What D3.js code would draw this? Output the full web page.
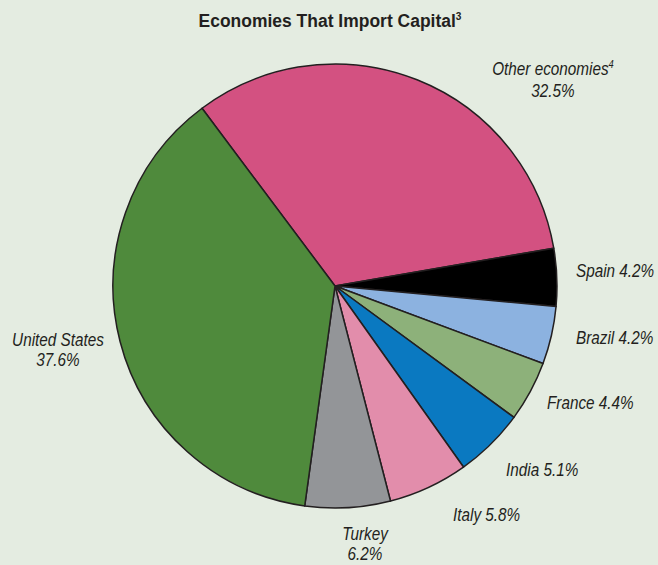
<!DOCTYPE html>
<html>
<head>
<meta charset="utf-8">
<script src="https://cdn.jsdelivr.net/npm/d3@7"></script>
<style>
  body { margin: 0; background: #e4ece1; }
  svg { display: block; }
  text { font-family: "Liberation Sans", Arial, sans-serif; fill: #231f20; }
</style>
</head>
<body>
<script>
// slices, clockwise from the US / Other boundary
const names = ["Other economies", "Spain", "Brazil", "France", "India", "Italy", "Turkey", "United States"];
const shares = [32.5, 4.2, 4.2, 4.4, 5.1, 5.8, 6.2, 37.6];
const colors = ["#d35181", "#000000", "#8cb2e0", "#8db17a", "#0a79c1", "#e28dab", "#939598", "#4f8a3c"];

const width = 658, height = 565;
const cx = 335, cy = 286, radius = 222;
const squeeze = 0.85;   // condensed look for the labels

const svg = d3.select("body").append("svg")
    .attr("width", width).attr("height", height)
    .style("background", "#e4ece1");

// 标题
const title = svg.append("text")
    .attr("transform", `translate(330, 27) scale(0.92, 1)`)
    .attr("text-anchor", "middle")
    .attr("font-size", "19px")
    .attr("font-weight", "bold");
title.append("tspan").text("Economies That Import Capital");
title.append("tspan").text("3").attr("font-size", "11px").attr("dy", -7);

const start = -36.8 * Math.PI / 180;
const pie = d3.pie().sort(null).value(d => d.v)
    .startAngle(start).endAngle(start + 2 * Math.PI);
const arc = d3.arc().innerRadius(0).outerRadius(radius);

const data = names.map((n, i) => ({name: n, v: shares[i], color: colors[i]}));

const g = svg.append("g").attr("transform", `translate(${cx}, ${cy})`);
g.selectAll("path.slice")
    .data(pie(data)).join("path")
    .attr("class", "slice")
    .attr("d", arc)
    .attr("fill", d => d.data.color)
    .attr("stroke", "#231f20")
    .attr("stroke-width", 1.5)
    .attr("stroke-linejoin", "round");

// label placement (page coords), one entry per slice
const labelPos = [
    {x: 553, y: 75, anchor: "middle", two: true, sup: "4"},
    {x: 576, y: 277, anchor: "start"},
    {x: 576, y: 344, anchor: "start"},
    {x: 547, y: 409, anchor: "start"},
    {x: 506, y: 476, anchor: "start"},
    {x: 453, y: 521, anchor: "start"},
    {x: 365, y: 540, anchor: "middle", two: true},
    {x: 58, y: 346, anchor: "middle", two: true}
];

data.forEach((d, i) => {
    const p = labelPos[i];
    const t = svg.append("text")
        .attr("transform", `translate(${p.x}, ${p.y}) scale(${squeeze}, 1)`)
        .attr("text-anchor", p.anchor)
        .attr("font-size", "18px")
        .attr("font-style", "italic");
    if (p.two) {
        t.append("tspan").text(d.name);
        if (p.sup) {
            t.append("tspan").text(p.sup).attr("font-size", "11px").attr("dy", -7);
        }
        t.append("tspan").attr("x", 0).attr("dy", p.sup ? 29 : 20).text(d.v.toFixed(1) + "%");
    } else {
        t.text(d.name + " " + d.v.toFixed(1) + "%");
    }
});
</script>
</body>
</html>
